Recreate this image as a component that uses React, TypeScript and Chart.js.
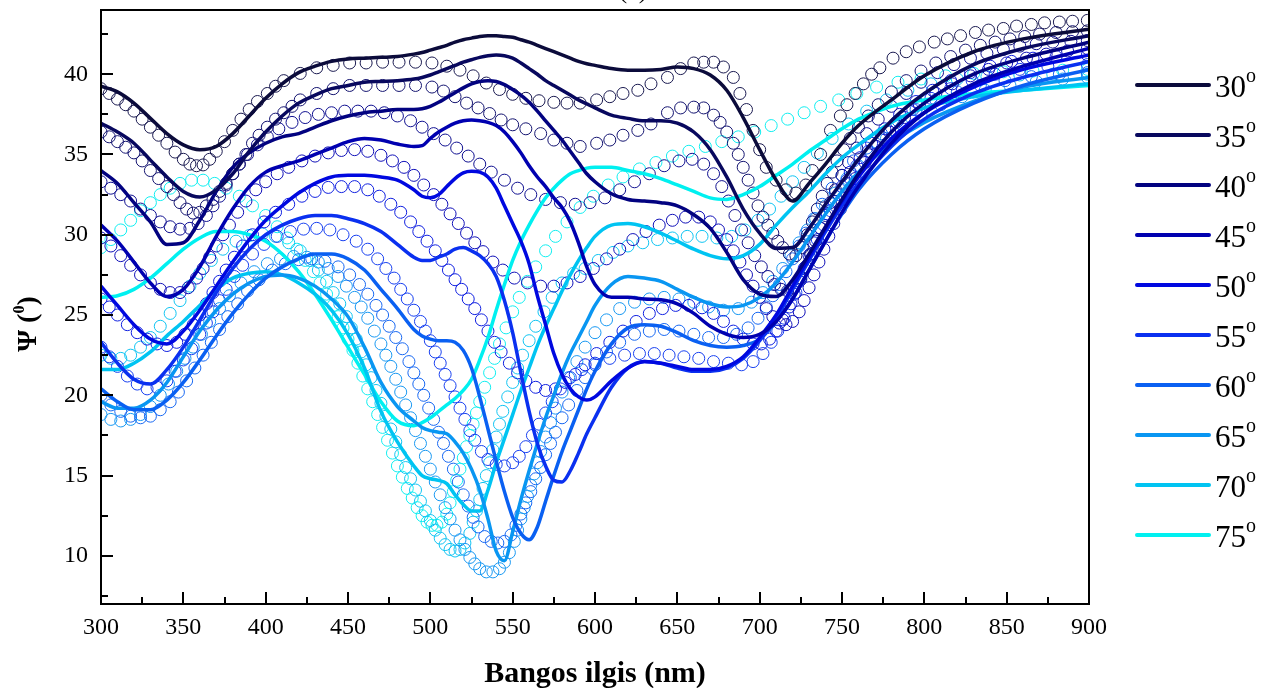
import React, { useEffect, useRef } from "react";
import { Chart, registerables } from "chart.js";

Chart.register(...registerables);

const ANGLES = ["30", "35", "40", "45", "50", "55", "60", "65", "70", "75"];
const LINE_COLORS = ["#0b0b3b", "#08085e", "#020280", "#0000b0", "#0008e0", "#0a30f0", "#0a60f2", "#0996f2", "#00c4f2", "#00f0f0"];
const CIRCLE_COLORS = ["#1a1a50", "#141470", "#101090", "#1010b8", "#1020e0", "#1840f0", "#1868f2", "#1898f2", "#10c4f2", "#10eef0"];
const X_TICKS = [300, 350, 400, 450, 500, 550, 600, 650, 700, 750, 800, 850, 900];
const Y_TICKS = [10, 15, 20, 25, 30, 35, 40];
const X_TITLE = "Bangos ilgis (nm)";
const Y_TITLE = "Ψ (";
const Y_TITLE_SUP = "0";
const Y_TITLE_END = ")";
const PANEL = "(a)";

const MODEL_X = [300,310,320,330,340,350,360,370,380,390,400,410,420,430,440,450,460,470,480,
  490,495,500,505,510,515,520,525,530,535,540,545,550,555,560,565,570,575,580,585,590,595,600,
  610,620,630,640,650,660,670,680,690,700,710,720,730,740,750,760,780,800,830,860,900];

const model30 = [39.25,38.9,38.2,37.25,36.3,35.6,35.3,35.5,36.3,37.4,38.5,39.4,40.1,40.5,40.8,40.95,41.0,41.05,41.1,
  41.25,41.35,41.5,41.65,41.8,42.0,42.15,42.25,42.35,42.4,42.4,42.35,42.3,42.15,42.0,41.8,41.6,41.4,41.2,41.0,40.8,40.65,40.55,
  40.35,40.25,40.25,40.3,40.45,40.35,39.95,39.0,37.3,35.3,33.4,32.1,33.2,34.4,35.7,36.8,38.4,39.9,41.4,42.2,42.8];
const model35 = [36.95,36.4,35.7,34.65,33.6,32.7,32.35,32.8,33.8,35.2,36.4,37.4,38.2,38.7,39.1,39.3,39.5,39.55,39.6,
  39.7,39.8,39.95,40.15,40.35,40.55,40.75,40.9,41.05,41.15,41.2,41.15,41.0,40.7,40.35,40.0,39.6,39.3,39.0,38.7,38.4,38.15,37.9,
  37.45,37.25,37.1,37.1,36.95,36.4,35.3,33.6,31.6,30.1,29.15,29.2,30.4,31.9,33.3,34.7,37.1,38.8,40.6,41.6,42.4];
const model40 = [34.0,33.2,32.0,30.8,29.4,29.5,30.9,32.7,34.2,35.1,35.7,36.1,36.3,36.7,37.1,37.4,37.6,37.7,37.8,
  37.8,37.85,38.0,38.25,38.55,38.85,39.15,39.4,39.55,39.6,39.55,39.35,39.05,38.7,38.25,37.7,37.1,36.5,35.9,35.2,34.5,33.8,33.3,
  32.55,32.2,32.1,32.0,31.8,31.25,30.4,28.9,27.2,26.3,26.15,27.2,28.8,30.5,32.2,33.8,36.4,38.2,40.0,41.0,42.0];
const model45 = [30.6,29.6,28.3,27.0,26.15,26.6,28.0,29.9,31.6,33.0,33.9,34.3,34.6,35.0,35.4,35.8,36.0,35.9,35.65,
  35.5,35.55,36.0,36.4,36.7,36.95,37.1,37.15,37.1,37.0,36.8,36.4,35.8,35.1,34.3,33.6,33.0,32.3,31.7,30.8,29.5,28.0,26.9,
  26.1,26.1,26.0,25.95,25.7,25.1,24.3,23.8,23.6,23.8,24.6,26.0,27.8,29.6,31.4,33.0,35.7,37.6,39.4,40.5,41.6];
const model50 = [26.8,25.6,24.4,23.5,23.2,24.0,25.3,26.8,28.3,29.7,30.9,31.8,32.6,33.2,33.6,33.7,33.7,33.6,33.4,
  32.8,32.4,32.3,32.5,33.0,33.5,33.85,33.95,33.9,33.6,32.9,31.8,30.7,29.6,28.2,26.2,24.4,22.6,21.3,20.4,19.9,19.7,19.9,
  20.9,21.7,22.1,22.0,21.8,21.6,21.6,21.8,22.4,23.6,25.0,26.8,28.6,30.4,32.1,33.6,36.0,37.6,39.2,40.3,41.2];
const model55 = [23.3,22.0,21.0,20.7,21.6,23.0,24.7,26.4,27.9,29.1,30.0,30.6,31.0,31.2,31.2,31.0,30.7,30.2,29.4,
  28.6,28.4,28.4,28.6,28.8,29.1,29.2,29.0,28.7,28.2,27.4,25.9,23.9,21.4,19.0,17.0,15.6,14.7,14.6,15.3,16.4,17.6,18.6,
  20.5,21.7,22.1,22.0,21.7,21.5,21.5,21.7,22.3,23.4,24.8,26.6,28.4,30.2,31.8,33.2,35.5,37.2,38.8,39.8,40.8];
const model60 = [20.4,19.6,19.1,19.1,19.7,20.8,22.2,23.7,25.1,26.3,27.3,28.0,28.5,28.8,28.8,28.5,27.8,26.6,25.4,
  24.1,23.7,23.5,23.4,23.4,23.3,22.8,21.7,19.9,17.9,15.9,14.0,12.4,11.4,11.0,11.8,13.4,15.0,16.5,17.8,19.1,20.4,21.5,
  23.2,24.2,24.4,24.3,23.9,23.4,23.1,23.0,23.1,23.5,24.6,26.0,27.8,29.6,31.3,32.8,35.0,36.6,38.2,39.3,40.3];
const model65 = [19.6,19.2,19.2,19.7,20.8,22.4,24.0,25.3,26.3,27.0,27.4,27.5,27.3,26.8,26.0,24.9,23.0,20.8,19.3,
  18.4,18.0,17.8,17.7,17.6,17.1,16.4,15.4,14.1,12.3,10.3,9.7,11.5,13.5,15.3,17.0,18.6,20.0,21.4,22.6,23.6,24.6,25.6,
  26.9,27.4,27.3,27.1,26.6,26.1,25.7,25.5,25.6,26.1,27.0,28.3,29.8,31.3,32.7,33.9,35.7,37.0,38.3,39.2,39.8];
const model70 = [21.6,21.6,22.0,22.7,23.7,24.6,25.6,26.6,27.3,27.6,27.7,27.5,27.0,26.3,25.3,23.8,21.7,19.0,17.1,
  15.6,15.0,14.8,14.7,14.5,13.8,13.2,12.8,12.8,14.1,15.8,17.3,18.8,20.3,21.7,23.1,24.3,25.4,26.5,27.5,28.4,29.2,29.9,
  30.6,30.7,30.5,30.1,29.6,29.1,28.7,28.5,28.7,29.4,30.6,31.7,32.7,33.8,34.8,35.6,37.0,37.9,38.6,39.0,39.4];
const model75 = [26.1,26.2,26.6,27.3,28.2,29.1,29.8,30.2,30.2,30.0,29.6,28.8,27.7,26.3,24.7,23.0,21.3,19.6,18.4,
  18.1,18.3,18.6,19.0,19.4,19.8,20.3,21.0,22.2,23.6,25.3,26.9,28.4,29.6,30.6,31.5,32.3,32.9,33.4,33.8,34.0,34.15,34.2,
  34.2,34.0,33.8,33.5,33.1,32.7,32.3,32.2,32.5,33.0,33.7,34.4,35.2,35.9,36.6,37.2,38.0,38.4,38.8,39.0,39.3];
const MODELS = [model30, model35, model40, model45, model50, model55, model60, model65, model70, model75];

const exp30X = [300,305,310,315,320,325,330,335,340,345,350,354,358,362,366,370,375,380,385,390,395,401,406,411,421,431,441,451,461,471,481,491,501,
  510,518,526,534,542,550,558,566,575,583,591,601,609,617,626,634,644,652,660,666,672,678,
  684,688,692,696,700,704,710,716,722,728,732,737,743,749,753,758,763,768,773,781,789,797,806,814,822,831,839,848,856,865,873,882,890,899];
const exp30Y = [39.1,38.8,38.45,38.1,37.7,37.2,36.7,36.2,35.7,35.15,34.7,34.4,34.3,34.35,34.7,35.2,35.8,36.5,37.2,37.8,38.3,38.8,39.25,39.6,40.05,40.4,40.55,40.7,40.7,40.75,40.75,40.75,40.7,
  40.5,40.25,39.9,39.45,39.05,38.75,38.5,38.35,38.25,38.2,38.2,38.4,38.6,38.8,39.0,39.4,39.8,40.35,40.7,40.75,40.75,40.45,
  39.8,38.8,37.8,36.5,35.3,34.2,33.4,32.8,32.6,33.1,34.0,35.0,36.5,37.4,38.1,38.8,39.4,40.0,40.4,41.0,41.4,41.7,42.0,42.2,42.4,42.6,42.75,42.85,43.0,43.1,43.2,43.25,43.3,43.35];
const exp35X = [300,305,310,315,320,325,330,335,340,344,348,352,356,360,364,368,372,376,380,384,388,392,396,401,406,411,416,421,431,441,451,461,471,481,491,501,
  508,515,522,529,536,543,550,558,567,575,583,591,601,609,617,626,634,644,652,660,666,672,676,680,684,687,690,693,696,699,702,705,708,711,714,718,722,
  726,729,732,735,738,741,744,747,751,755,760,766,772,780,789,798,807,816,825,834,843,852,861,870,880,890,899];
const exp35Y = [36.4,36.1,35.8,35.45,35.1,34.6,34.0,33.5,33.0,32.5,32.0,31.6,31.35,31.4,31.8,32.2,32.7,33.2,33.8,34.4,35.0,35.7,36.2,36.7,37.2,37.6,38.0,38.4,38.8,39.1,39.3,39.3,39.3,39.3,39.3,39.2,
  38.95,38.6,38.2,37.9,37.55,37.15,36.85,36.6,36.3,35.9,35.7,35.5,35.7,35.9,36.2,36.5,36.9,37.6,37.9,37.95,37.9,37.45,37.0,36.4,35.7,35.0,34.2,33.4,32.6,31.8,31.1,30.6,30.1,29.6,29.2,28.8,28.7,
  29.2,30.0,30.8,31.6,32.4,33.2,33.9,34.6,35.3,36.0,36.7,37.4,38.1,38.9,39.6,40.2,40.7,41.1,41.5,41.8,42.0,42.2,42.35,42.5,42.6,42.65,42.7];
const exp40X = [300,306,312,318,324,330,336,342,348,354,359,364,368,372,376,380,384,389,395,401,408,416,424,432,440,448,456,464,472,480,488,495,502,509,516,523,530,537,545,553,561,570,579,588,597,606,615,624,633,642,651,659,666,672,677,681,685,689,693,697,701,705,709,713,717,721,725,728,731,734,737,740,743,746,750,754,759,765,772,780,789,798,808,818,828,838,848,858,868,878,889,899];
const exp40Y = [33.3,32.9,32.5,32.1,31.6,31.2,30.8,30.5,30.35,30.4,30.7,31.2,31.8,32.4,33.1,33.8,34.4,35.0,35.6,36.1,36.6,37.0,37.3,37.5,37.6,37.7,37.7,37.7,37.6,37.4,37.1,36.7,36.3,35.9,35.4,34.9,34.4,33.9,33.4,32.9,32.5,32.2,32.0,31.9,32.0,32.3,32.8,33.3,33.8,34.3,34.6,34.7,34.4,33.8,33.0,32.1,31.2,30.3,29.5,28.7,28.0,27.4,26.9,26.6,26.5,26.7,27.3,28.0,28.8,29.6,30.4,31.2,32.0,32.8,33.7,34.5,35.4,36.3,37.2,38.0,38.8,39.5,40.1,40.6,41.0,41.3,41.55,41.75,41.9,42.0,42.05,42.1];
const exp45X = [300,306,312,318,324,330,336,342,348,353,358,362,366,370,374,378,383,388,394,400,407,414,422,430,438,446,454,462,470,477,484,490,496,502,507,512,517,522,527,532,538,544,551,559,567,575,583,591,599,607,615,623,631,639,647,655,663,670,675,680,684,688,692,696,700,704,708,712,716,720,724,727,730,733,736,739,742,745,749,753,758,764,771,779,788,797,807,817,828,839,850,862,874,887,899];
const exp45Y = [29.8,29.3,28.7,28.1,27.5,27.0,26.6,26.4,26.4,26.7,27.3,27.9,28.6,29.3,30.0,30.6,31.4,32.1,32.8,33.3,33.8,34.2,34.6,34.9,35.1,35.25,35.3,35.2,34.95,34.6,34.2,33.7,33.1,32.5,31.9,31.3,30.7,30.1,29.5,28.95,28.3,27.8,27.3,27.0,26.8,26.8,27.0,27.4,27.9,28.5,29.1,29.7,30.2,30.6,30.9,31.1,31.1,30.8,30.3,29.7,29.0,28.3,27.5,26.8,26.1,25.4,24.9,24.5,24.4,24.6,25.2,25.9,26.7,27.5,28.3,29.1,29.9,30.7,31.6,32.5,33.5,34.5,35.5,36.4,37.3,38.1,38.8,39.4,39.9,40.3,40.7,41.0,41.25,41.45,41.6];
const exp50X = [300,305,310,316,322,328,334,340,346,351,356,360,364,368,372,376,381,386,392,399,406,414,422,430,438,446,454,462,469,476,482,488,493,498,503,507,511,515,519,523,527,531,535,539,543,548,553,558,564,570,576,582,588,594,601,609,617,625,633,641,649,657,665,672,678,684,690,696,701,706,710,714,718,721,724,727,730,733,737,741,745,750,755,761,768,776,785,795,805,816,828,840,853,866,880,899];
const exp50Y = [26.0,25.5,25.0,24.4,23.9,23.5,23.2,23.1,23.3,23.8,24.4,25.0,25.7,26.4,27.1,27.8,28.6,29.3,30.0,30.8,31.4,31.9,32.4,32.7,32.95,33.0,33.0,32.8,32.4,31.9,31.4,30.8,30.2,29.6,29.0,28.4,27.8,27.2,26.6,26.0,25.4,24.7,24.0,23.3,22.7,22.0,21.4,20.9,20.5,20.3,20.4,20.8,21.3,21.9,22.6,23.3,24.0,24.6,25.1,25.4,25.6,25.6,25.45,25.1,24.6,24.0,23.5,23.2,23.2,23.5,24.0,24.7,25.5,26.3,27.1,27.9,28.7,29.5,30.4,31.3,32.1,33.0,33.9,34.8,35.7,36.6,37.5,38.3,39.0,39.6,40.1,40.5,40.8,41.0,41.1,41.2];
const exp55X = [300,305,310,316,322,328,334,340,345,350,355,360,364,368,372,376,381,386,392,399,407,415,423,431,439,447,455,462,468,473,478,482,486,490,494,497,500,503,506,509,512,515,518,521,524,527,531,535,540,545,550,554,558,562,566,570,574,579,585,592,600,609,618,627,636,645,654,663,672,681,689,696,702,707,711,715,719,722,725,728,731,735,739,743,748,753,759,766,774,783,793,804,816,829,843,858,875,899];
const exp55Y = [23.0,22.4,21.8,21.2,20.7,20.4,20.5,20.9,21.5,22.2,22.9,23.8,24.5,25.2,25.9,26.6,27.4,28.1,28.8,29.4,29.9,30.2,30.35,30.4,30.3,30.0,29.6,29.1,28.5,27.9,27.3,26.6,26.0,25.3,24.6,24.0,23.4,22.7,22.0,21.3,20.6,19.9,19.2,18.5,17.8,17.2,16.5,16.0,15.7,15.6,15.8,16.2,16.8,17.5,18.2,18.9,19.6,20.4,21.1,21.6,22.0,22.3,22.5,22.6,22.6,22.5,22.4,22.3,22.1,22.0,21.9,22.1,22.6,23.3,24.0,24.8,25.7,26.4,27.2,28.0,28.8,29.7,30.6,31.5,32.5,33.4,34.3,35.2,36.1,37.0,37.8,38.5,39.1,39.6,40.0,40.3,40.5,40.6];
const exp60X = [300,306,312,318,324,330,336,342,347,352,357,362,367,372,377,383,389,396,404,412,420,428,436,444,451,457,462,467,471,475,479,483,487,490,493,496,499,502,505,508,511,514,517,520,523,526,529,533,537,541,545,549,552,555,558,561,564,567,570,573,576,580,584,589,594,600,607,615,624,633,642,651,660,669,678,686,693,699,704,708,712,716,720,724,728,733,738,744,750,757,765,774,784,795,807,820,834,849,865,882,899];
const exp60Y = [20.0,19.4,19.0,18.7,18.6,18.7,19.1,19.6,20.2,20.9,21.7,22.5,23.3,24.1,24.9,25.7,26.5,27.2,27.8,28.2,28.45,28.5,28.35,28.0,27.5,26.9,26.3,25.6,25.0,24.3,23.6,22.9,22.1,21.4,20.7,20.0,19.2,18.5,17.7,17.0,16.2,15.4,14.6,13.8,13.1,12.4,11.8,11.2,10.9,10.8,10.9,11.3,11.9,12.6,13.3,14.0,14.8,15.5,16.3,17.0,17.7,18.6,19.4,20.3,21.1,21.9,22.7,23.3,23.8,24.0,24.1,24.0,23.8,23.6,23.6,23.8,24.2,24.8,25.5,26.2,26.9,27.7,28.5,29.3,30.1,31.0,31.9,32.9,33.7,34.6,35.4,36.3,37.1,37.8,38.4,38.9,39.3,39.6,39.85,40.0,40.1];
const exp65X = [300,306,312,318,324,330,336,341,346,351,356,361,366,372,378,385,393,401,409,417,425,432,438,444,449,454,458,462,466,470,473,476,479,482,485,488,491,494,497,500,503,506,509,512,515,518,521,524,527,530,534,538,542,545,548,551,553,555,557,559,561,563,565,567,570,573,576,580,584,589,594,600,607,615,624,633,642,651,660,669,678,687,695,702,708,714,719,724,729,734,740,746,753,760,768,777,787,798,810,823,837,852,868,884,899];
const exp65Y = [18.8,18.5,18.4,18.5,18.8,19.3,20.0,20.7,21.5,22.3,23.0,23.8,24.6,25.4,26.2,27.0,27.7,28.2,28.5,28.65,28.6,28.3,27.9,27.4,26.8,26.1,25.5,24.8,24.0,23.2,22.5,21.8,21.0,20.2,19.4,18.6,17.8,17.0,16.2,15.4,14.6,13.8,13.0,12.3,11.6,11.0,10.4,9.9,9.5,9.2,9.0,9.0,9.2,9.6,10.2,10.9,11.6,12.3,13.0,13.7,14.4,15.1,15.8,16.5,17.4,18.3,19.2,20.2,21.1,22.1,23.0,23.9,24.7,25.4,25.8,26.0,26.1,26.0,25.8,25.5,25.3,25.4,25.8,26.4,27.1,27.9,28.7,29.5,30.3,31.0,31.8,32.6,33.5,34.3,35.1,36.0,36.8,37.5,38.1,38.6,39.0,39.3,39.55,39.7,39.8];
const exp70X = [300,306,312,318,324,330,336,342,348,354,360,367,374,382,390,398,406,414,421,427,432,437,441,445,449,452,455,458,461,464,467,470,473,476,479,482,485,488,491,494,497,500,503,506,509,512,515,518,521,524,526,528,530,532,534,536,538,540,542,544,547,550,553,556,560,564,569,574,580,587,594,602,611,620,629,638,647,656,665,674,683,691,699,706,713,720,727,735,744,754,765,777,790,804,820,838,858,878,899];
const exp70Y = [22.5,22.3,22.3,22.5,23.0,23.6,24.3,25.1,25.9,26.8,27.6,28.4,29.1,29.6,29.95,30.05,29.9,29.5,29.0,28.4,27.8,27.1,26.4,25.7,24.9,24.2,23.5,22.7,21.9,21.1,20.3,19.5,18.7,17.9,17.1,16.3,15.5,14.8,14.1,13.4,12.8,12.2,11.6,11.1,10.7,10.4,10.3,10.4,10.8,11.4,12.1,12.8,13.5,14.2,15.0,15.8,16.6,17.4,18.2,19.0,19.9,20.8,21.7,22.5,23.4,24.3,25.2,26.1,27.0,27.6,27.9,28.4,28.9,29.3,29.5,29.7,29.8,29.9,29.9,29.8,29.9,30.3,30.9,31.6,32.4,33.3,34.2,35.1,36.0,36.9,37.7,38.4,39.0,39.4,39.7,39.85,39.95,40.0,40.0];
const exp75X = [300,306,312,318,324,330,336,342,348,355,362,369,376,384,392,400,407,413,419,424,429,433,437,441,444,447,450,453,456,459,462,465,468,471,474,477,480,483,486,489,492,495,498,501,504,507,510,512,514,516,518,520,522,524,526,528,530,533,536,539,542,546,550,554,559,564,570,576,583,591,599,608,617,627,637,647,657,667,677,687,697,707,717,727,737,748,759,771,784,798,813,830,848,866,884,899];
const exp75Y = [29.2,29.7,30.3,30.9,31.5,32.0,32.5,32.9,33.2,33.4,33.4,33.2,32.9,32.4,31.8,31.2,30.5,29.8,29.1,28.4,27.7,27.0,26.3,25.6,24.9,24.2,23.5,22.8,22.0,21.2,20.4,19.6,18.8,18.0,17.2,16.4,15.6,14.9,14.2,13.6,13.0,12.5,12.1,11.9,11.9,12.1,12.6,13.3,14.0,14.7,15.4,16.1,16.8,17.5,18.2,18.9,19.6,20.5,21.4,22.3,23.2,24.2,25.2,26.1,27.1,28.0,29.0,29.9,30.8,31.7,32.4,33.1,33.6,34.1,34.5,34.9,35.2,35.5,35.8,36.1,36.4,36.8,37.2,37.6,38.0,38.4,38.8,39.2,39.5,39.7,39.9,40.05,40.15,40.2,40.25,40.3];
const EXP_X = [exp30X, exp35X, exp40X, exp45X, exp50X, exp55X, exp60X, exp65X, exp70X, exp75X];
const EXP_Y = [exp30Y, exp35Y, exp40Y, exp45Y, exp50Y, exp55Y, exp60Y, exp65Y, exp70Y, exp75Y];

const SERIF = "'Liberation Serif', 'Times New Roman', serif";

const decorPlugin = {
  id: "decor",
  afterDraw(chart: any) {
    const ctx = chart.ctx;
    const a = chart.chartArea;
    const xs = chart.scales.x;
    const ys = chart.scales.y;
    ctx.save();
    ctx.strokeStyle = "#000";
    ctx.lineWidth = 2;
    ctx.strokeRect(a.left, a.top, a.right - a.left, a.bottom - a.top);
    ctx.beginPath();
    for (let v = 300; v <= 900; v += 25) {
      const px = Math.round(xs.getPixelForValue(v));
      const len = v % 50 === 0 ? 12 : 7;
      ctx.moveTo(px, a.bottom);
      ctx.lineTo(px, a.bottom - len);
    }
    for (let v = 7.5; v <= 44; v += 2.5) {
      const py = Math.round(ys.getPixelForValue(v));
      const len = v % 5 === 0 ? 12 : 7;
      ctx.moveTo(a.left, py);
      ctx.lineTo(a.left + len, py);
    }
    ctx.stroke();

    ctx.fillStyle = "#000";
    ctx.font = "bold 30px " + SERIF;
    ctx.textAlign = "center";
    ctx.textBaseline = "alphabetic";
    ctx.fillText(X_TITLE, (a.left + a.right) / 2, 682);
    ctx.font = "26px " + SERIF;
    ctx.fillText(PANEL, 633, -2);

    ctx.save();
    ctx.translate(36, 324);
    ctx.rotate(-Math.PI / 2);
    ctx.font = "bold 28px " + SERIF;
    const w1 = ctx.measureText(Y_TITLE).width;
    const w3 = ctx.measureText(Y_TITLE_END).width;
    ctx.font = "bold 16px " + SERIF;
    const w2 = ctx.measureText(Y_TITLE_SUP).width;
    const x0 = -(w1 + w2 + w3) / 2;
    ctx.textAlign = "left";
    ctx.font = "bold 28px " + SERIF;
    ctx.fillText(Y_TITLE, x0, 0);
    ctx.font = "bold 16px " + SERIF;
    ctx.fillText(Y_TITLE_SUP, x0 + w1, -12);
    ctx.font = "bold 28px " + SERIF;
    ctx.fillText(Y_TITLE_END, x0 + w1 + w2, 0);
    ctx.restore();

    ctx.textAlign = "left";
    for (let i = 0; i < ANGLES.length; i++) {
      const y = 85 + 50 * i;
      ctx.strokeStyle = LINE_COLORS[i];
      ctx.lineWidth = 4;
      ctx.lineCap = "round";
      ctx.beginPath();
      ctx.moveTo(1137, y);
      ctx.lineTo(1209, y);
      ctx.stroke();
      ctx.fillStyle = "#000";
      ctx.font = "31px " + SERIF;
      ctx.fillText(ANGLES[i], 1215, y + 12);
      const w = ctx.measureText(ANGLES[i]).width;
      ctx.font = "20px " + SERIF;
      ctx.fillText("o", 1215 + w, y - 3);
    }
    ctx.restore();
  },
};

export default function App() {
  const ref = useRef<HTMLCanvasElement | null>(null);
  useEffect(() => {
    if (!ref.current) return;
    const datasets: any[] = [];
    ANGLES.forEach((a, i) => {
      datasets.push({
        label: a,
        data: MODEL_X.map((x, j) => ({ x, y: MODELS[i][j] })),
        showLine: true,
        borderColor: LINE_COLORS[i],
        backgroundColor: LINE_COLORS[i],
        borderWidth: 3.5,
        pointRadius: 0,
        cubicInterpolationMode: "monotone",
        fill: false,
        order: 0,
        clip: 0,
      });
    });
    ANGLES.forEach((a, i) => {
      datasets.push({
        label: a + " exp",
        data: EXP_X[i].map((x, j) => ({ x, y: EXP_Y[i][j] })),
        showLine: false,
        borderColor: CIRCLE_COLORS[i],
        backgroundColor: "rgba(0,0,0,0)",
        pointRadius: 6,
        pointBorderWidth: 1,
        borderWidth: 1,
        pointStyle: "circle",
        order: 1,
        clip: 0,
      });
    });
    const chart = new Chart(ref.current, {
      type: "scatter",
      data: { datasets },
      options: {
        responsive: false,
        animation: false,
        events: [],
        layout: { padding: { left: 0, right: 183, top: 10, bottom: 0 } },
        plugins: { legend: { display: false }, tooltip: { enabled: false }, title: { display: false } },
        scales: {
          x: {
            type: "linear",
            min: 300,
            max: 900,
            afterBuildTicks: (s: any) => { s.ticks = X_TICKS.map((v) => ({ value: v })); },
            afterFit: (s: any) => { s.height = 84; s.paddingLeft = 0; s.paddingRight = 0; },
            grid: { display: false, drawTicks: false },
            border: { display: false },
            ticks: { color: "#000", font: { family: SERIF, size: 24 }, padding: 9, maxRotation: 0, autoSkip: false },
          },
          y: {
            type: "linear",
            min: 7,
            max: 44,
            afterBuildTicks: (s: any) => { s.ticks = Y_TICKS.map((v) => ({ value: v })); },
            afterFit: (s: any) => { s.width = 101; s.paddingTop = 0; s.paddingBottom = 0; },
            grid: { display: false, drawTicks: false },
            border: { display: false },
            ticks: { color: "#000", font: { family: SERIF, size: 24 }, padding: 13, autoSkip: false },
          },
        },
      },
      plugins: [decorPlugin],
    });
    return () => chart.destroy();
  }, []);
  return (
    <div style={{ position: "fixed", left: 0, top: 0, width: 1272, height: 688, background: "#fff" }}>
      <canvas ref={ref} width={1272} height={688} style={{ display: "block", width: 1272, height: 688 }} />
    </div>
  );
}
